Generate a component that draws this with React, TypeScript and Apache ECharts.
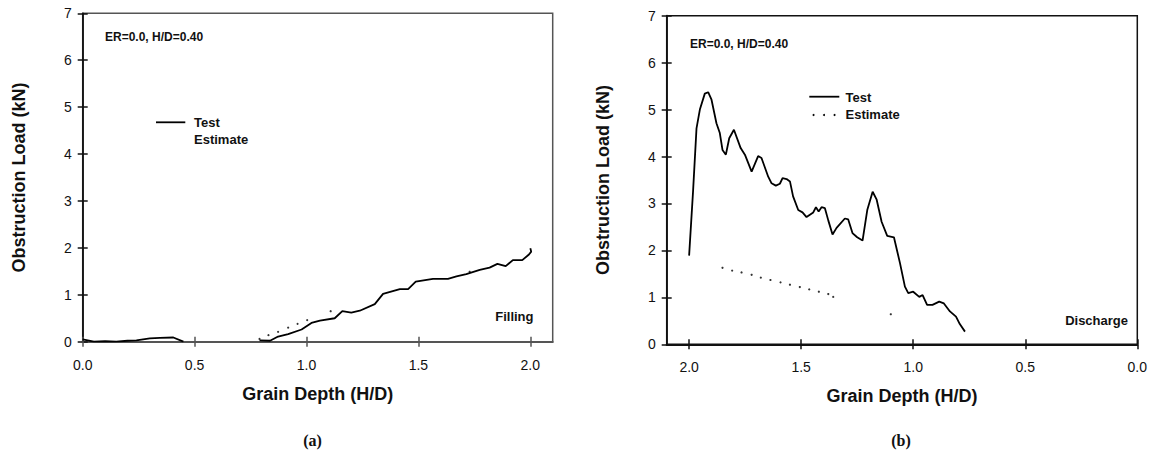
import React, { useEffect, useRef } from "react";
import * as echarts from "echarts";

// Panel (a) Filling  (null = gap in the recorded trace)
const fillTestX = [0, 0.05, 0.1, 0.15, 0.2, 0.24, 0.3, 0.345, 0.405, 0.45, 0.6, 0.79, 0.837, 0.873, 0.918, 0.978, 1.022, 1.06, 1.126, 1.16, 1.2, 1.238, 1.305, 1.342, 1.417, 1.454, 1.488, 1.565, 1.632, 1.67, 1.714, 1.774, 1.818, 1.853, 1.89, 1.922, 1.964, 1.994, 2.004, 2.0];
const fillTestY = [0.05, 0, 0.01, 0, 0.02, 0.03, 0.07, 0.08, 0.09, 0, null, 0.03, 0.02, 0.11, 0.16, 0.26, 0.4, 0.45, 0.5, 0.65, 0.62, 0.66, 0.8, 1.02, 1.12, 1.12, 1.28, 1.34, 1.34, 1.39, 1.44, 1.53, 1.58, 1.66, 1.61, 1.74, 1.74, 1.86, 1.92, 1.99];
const fillEstX = [0.79, 0.83, 0.873, 0.918, 0.96, 1.003, 1.108, 1.729];
const fillEstY = [0.06, 0.14, 0.21, 0.3, 0.38, 0.46, 0.65, 1.49];

// Panel (b) Discharge
const dischTestX = [2.0, 1.982, 1.967, 1.952, 1.93, 1.915, 1.9, 1.878, 1.863, 1.851, 1.836, 1.821, 1.8, 1.77, 1.751, 1.721, 1.692, 1.677, 1.647, 1.632, 1.613, 1.595, 1.583, 1.565, 1.55, 1.536, 1.513, 1.494, 1.476, 1.446, 1.434, 1.422, 1.409, 1.394, 1.379, 1.36, 1.342, 1.305, 1.29, 1.271, 1.25, 1.226, 1.205, 1.181, 1.163, 1.141, 1.116, 1.086, 1.059, 1.037, 1.022, 1.0, 0.973, 0.958, 0.938, 0.914, 0.884, 0.863, 0.836, 0.809, 0.792, 0.769];
const dischTestY = [1.89, 3.29, 4.6, 5.0, 5.34, 5.37, 5.21, 4.71, 4.5, 4.14, 4.04, 4.39, 4.57, 4.18, 4.04, 3.68, 4.01, 3.97, 3.57, 3.43, 3.38, 3.42, 3.54, 3.52, 3.47, 3.15, 2.86, 2.81, 2.71, 2.81, 2.92, 2.83, 2.92, 2.9, 2.64, 2.34, 2.48, 2.68, 2.66, 2.37, 2.28, 2.21, 2.86, 3.25, 3.08, 2.61, 2.31, 2.28, 1.73, 1.23, 1.09, 1.12, 1.01, 1.05, 0.84, 0.84, 0.91, 0.87, 0.7, 0.59, 0.43, 0.27];
const dischEstX = [1.851, 1.808, 1.766, 1.721, 1.68, 1.637, 1.592, 1.55, 1.506, 1.464, 1.421, 1.379, 1.357, 1.1];
const dischEstY = [1.63, 1.57, 1.53, 1.48, 1.42, 1.37, 1.32, 1.27, 1.22, 1.17, 1.12, 1.07, 1.01, 0.64];

const xTicks = [0, 0.5, 1.0, 1.5, 2.0];

const xTitle = "Grain Depth (H/D)";
const yTitle = "Obstruction Load (kN)";
const caseLabel = "ER=0.0, H/D=0.40";

const FONT = "'Liberation Sans', Arial, Helvetica, sans-serif";

function zip(xs: number[], ys: (number | null)[]) {
  return xs.map((x, i) => (ys[i] === null ? [x, "-"] : [x, ys[i]]));
}

export default function App() {
  const ref = useRef<HTMLDivElement>(null);
  useEffect(() => {
    if (!ref.current) return;
    const chart = echarts.init(ref.current, undefined, { renderer: "svg" });

    const grids = [
      { left: 82.7, top: 13.3, width: 470, height: 328.4, show: true, borderColor: "#555", borderWidth: 1.5 },
      { left: 666.7, top: 15.7, width: 470.6, height: 328.6, show: true, borderColor: "#111", borderWidth: 1.5 },
    ];

    const mkX = (grid: number, inverse: boolean, main: boolean, lineColor: string) => ({
      type: "value",
      gridIndex: grid,
      position: "bottom",
      min: 0,
      max: 2.1,
      inverse,
      splitLine: { show: false },
      axisLine: { show: main, onZero: false, lineStyle: { color: lineColor, width: 2 } },
      axisTick: {
        show: true,
        inside: !main,
        length: 5,
        customValues: xTicks,
        lineStyle: { color: lineColor, width: 1.5 },
      },
      axisLabel: {
        show: main,
        customValues: xTicks,
        formatter: (v: number) => v.toFixed(1),
        fontFamily: FONT,
        fontSize: 14,
        color: "#111",
        margin: 16,
      },
      name: main ? xTitle : "",
      nameLocation: "middle",
      nameGap: 43,
      nameTextStyle: { fontFamily: FONT, fontSize: 18, fontWeight: "bold", color: "#111" },
    });

    const mkY = (grid: number, main: boolean) => ({
      type: "value",
      gridIndex: grid,
      position: "left",
      min: 0,
      max: 7,
      interval: 1,
      splitLine: { show: false },
      axisLine: { show: main, onZero: false, lineStyle: { color: "#111", width: 1.8 } },
      axisTick: { show: true, inside: !main, length: 5, lineStyle: { color: "#111", width: 1.5 } },
      axisLabel: {
        show: main,
        fontFamily: FONT,
        fontSize: 14,
        color: "#111",
        margin: 11,
      },
      name: main ? yTitle : "",
      nameLocation: "middle",
      nameGap: 55,
      nameRotate: 90,
      nameTextStyle: { fontFamily: FONT, fontSize: 18, fontWeight: "bold", color: "#111" },
    });

    const legendText = (x: number, y: number, t: string) => ({
      type: "text",
      x,
      y,
      style: { text: t, font: `bold 13px ${FONT}`, fill: "#111", verticalAlign: "middle", align: "left" },
    });

    const option: any = {
      animation: false,
      grid: grids,
      xAxis: [mkX(0, false, true, "#555"), mkX(0, false, false, "#555"), mkX(1, true, true, "#111"), mkX(1, true, false, "#111")],
      yAxis: [mkY(0, true), mkY(0, false), mkY(1, true), mkY(1, false)],
      series: [
        {
          type: "line",
          name: "Test",
          xAxisIndex: 0,
          yAxisIndex: 0,
          data: zip(fillTestX, fillTestY),
          showSymbol: false,
          connectNulls: false,
          lineStyle: { color: "#000", width: 1.8 },
          z: 5,
        },
        {
          type: "scatter",
          name: "Estimate",
          xAxisIndex: 0,
          yAxisIndex: 0,
          data: zip(fillEstX, fillEstY),
          symbolSize: 2.2,
          itemStyle: { color: "#000" },
          z: 5,
        },
        {
          type: "line",
          name: "Test",
          xAxisIndex: 2,
          yAxisIndex: 2,
          data: zip(dischTestX, dischTestY),
          showSymbol: false,
          lineStyle: { color: "#000", width: 1.8 },
          z: 5,
        },
        {
          type: "scatter",
          name: "Estimate",
          xAxisIndex: 2,
          yAxisIndex: 2,
          data: zip(dischEstX, dischEstY),
          symbolSize: 2.2,
          itemStyle: { color: "#000" },
          z: 5,
        },
      ],
      graphic: [
        { type: "text", x: 105, y: 37, style: { text: caseLabel, font: `bold 12px ${FONT}`, fill: "#111", verticalAlign: "middle" } },
        { type: "text", x: 690, y: 43.5, style: { text: caseLabel, font: `bold 12px ${FONT}`, fill: "#111", verticalAlign: "middle" } },
        // legend (a)
        { type: "line", shape: { x1: 156, y1: 122.3, x2: 185.3, y2: 122.3 }, style: { stroke: "#000", lineWidth: 1.8 } },
        legendText(194, 122.5, "Test"),
        legendText(194, 139.5, "Estimate"),
        // legend (b)
        { type: "line", shape: { x1: 809.3, y1: 96.7, x2: 839.3, y2: 96.7 }, style: { stroke: "#000", lineWidth: 1.8 } },
        { type: "circle", shape: { cx: 813.5, cy: 115, r: 1 }, style: { fill: "#000" } },
        { type: "circle", shape: { cx: 824, cy: 115, r: 1 }, style: { fill: "#000" } },
        { type: "circle", shape: { cx: 834.5, cy: 115, r: 1 }, style: { fill: "#000" } },
        legendText(845.5, 97, "Test"),
        legendText(845.5, 114.5, "Estimate"),
        // annotations
        { type: "text", x: 533.5, y: 316.5, style: { text: "Filling", font: `bold 13px ${FONT}`, fill: "#111", align: "right", verticalAlign: "middle" } },
        { type: "text", x: 1128, y: 320.5, style: { text: "Discharge", font: `bold 13px ${FONT}`, fill: "#111", align: "right", verticalAlign: "middle" } },
        // panel labels
        { type: "text", x: 312.5, y: 440.5, style: { text: "(a)", font: "bold 16px 'Liberation Serif', 'Times New Roman', serif", fill: "#111", align: "center", verticalAlign: "middle" } },
        { type: "text", x: 901, y: 440.5, style: { text: "(b)", font: "bold 16px 'Liberation Serif', 'Times New Roman', serif", fill: "#111", align: "center", verticalAlign: "middle" } },
      ],
    };

    chart.setOption(option);
    return () => chart.dispose();
  }, []);

  return (
    <div
      ref={ref}
      style={{ position: "absolute", left: 0, top: 0, width: 1151, height: 455, background: "#fff" }}
    />
  );
}
